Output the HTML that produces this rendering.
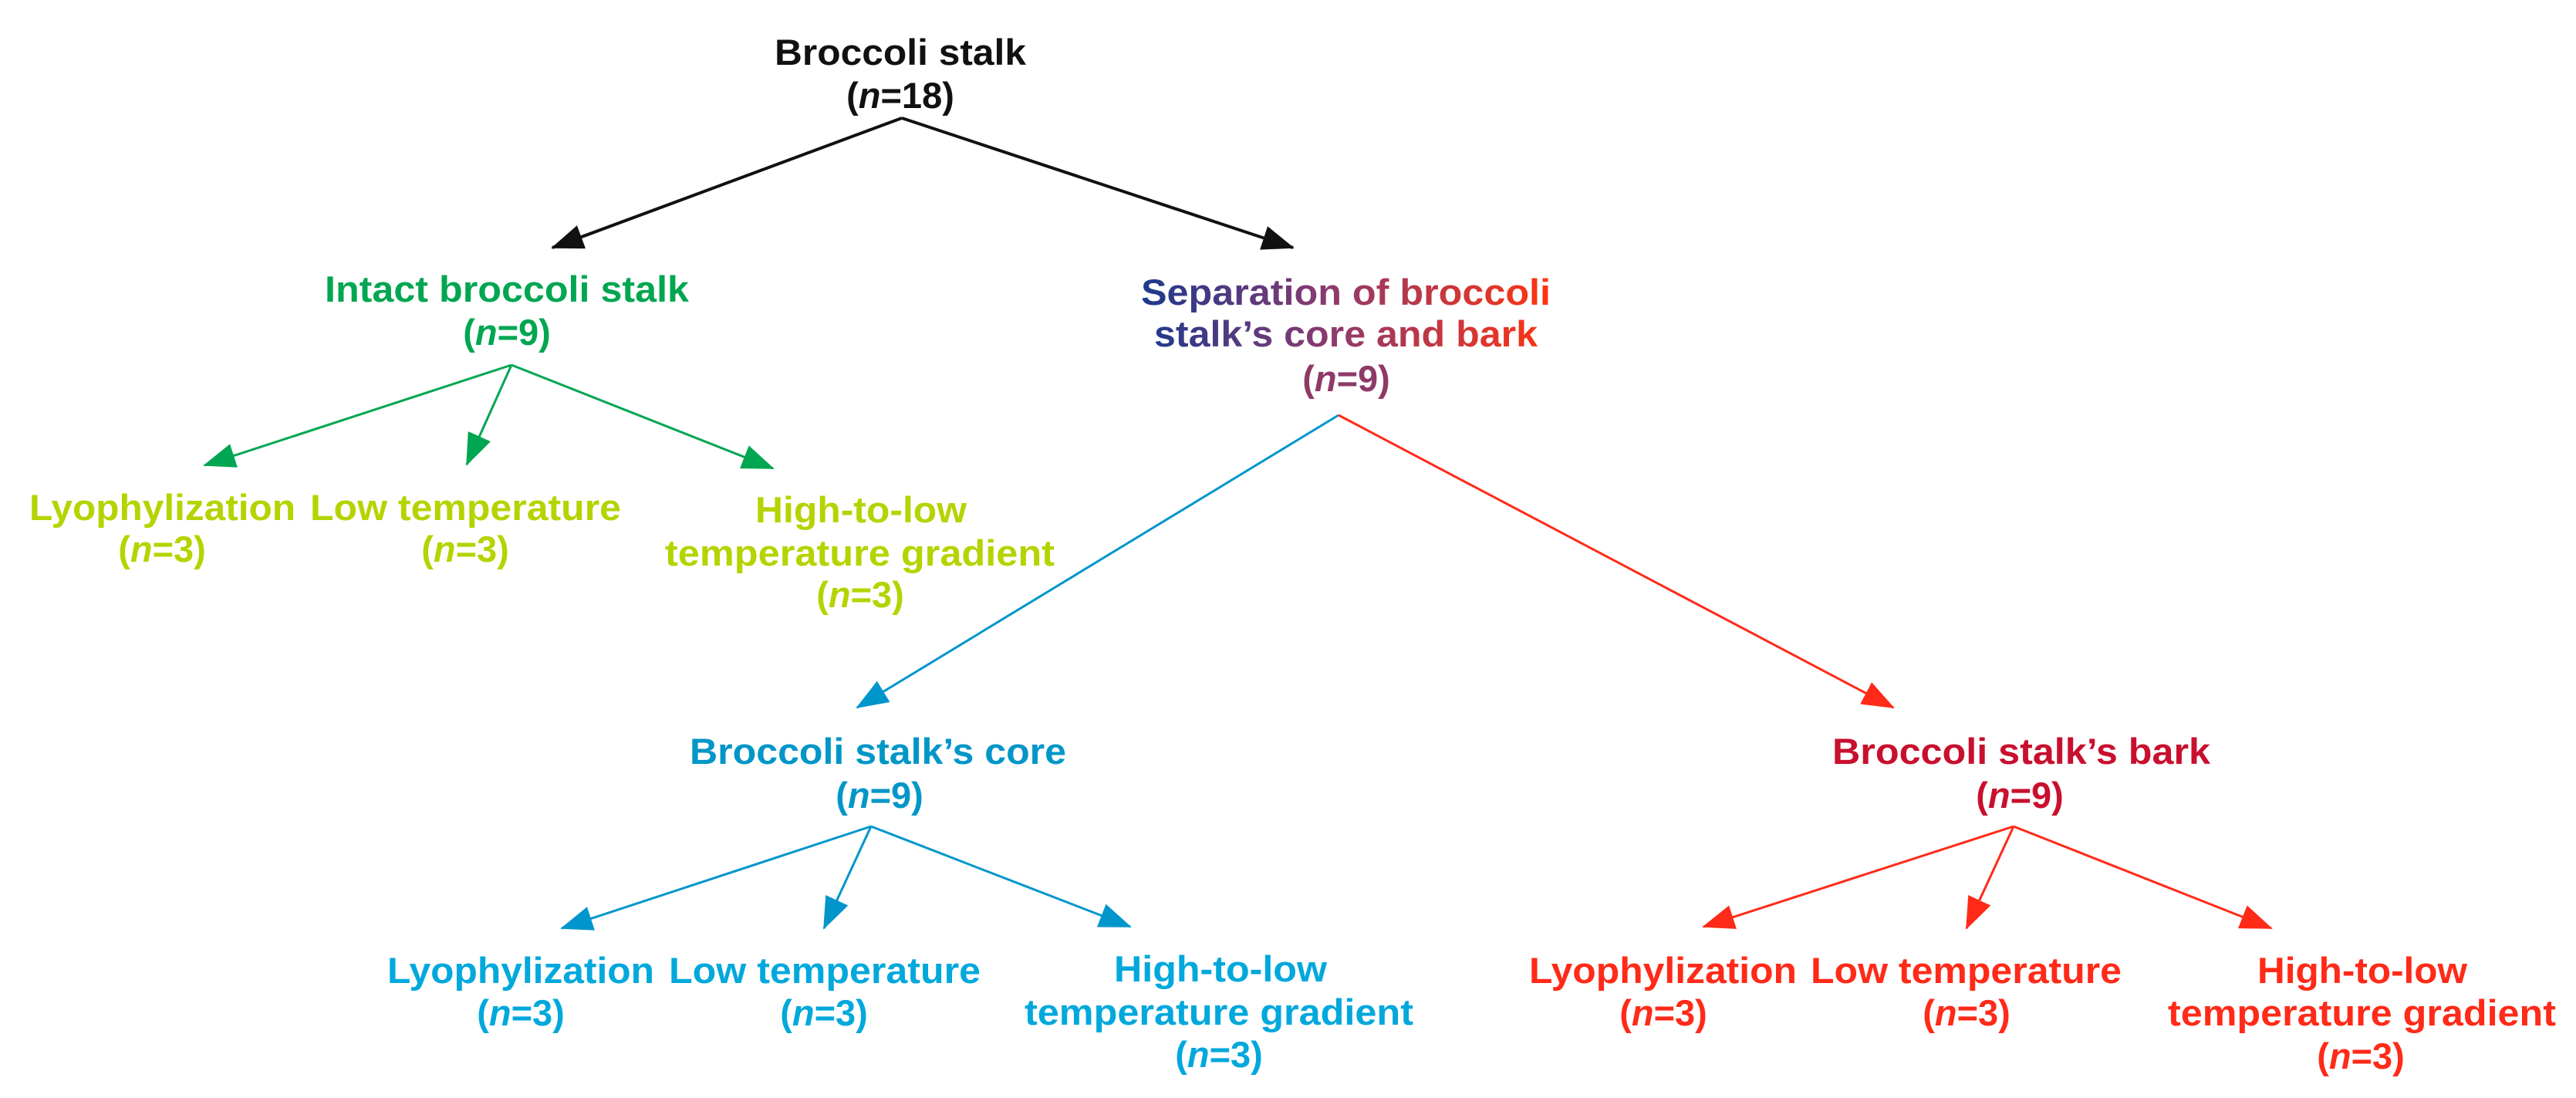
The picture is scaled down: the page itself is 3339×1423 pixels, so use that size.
<!DOCTYPE html>
<html><head><meta charset="utf-8"><style>
html,body{margin:0;padding:0;background:#fff;}
svg{display:block;}
text{font-family:"Liberation Sans",Arial,sans-serif;font-weight:bold;font-size:47px;}
</style></head><body>
<svg width="3339" height="1423" viewBox="0 0 3339 1423" xmlns="http://www.w3.org/2000/svg">
<defs>
<marker id="mk" markerUnits="userSpaceOnUse" markerWidth="44" markerHeight="34" refX="40" refY="16" orient="auto"><path d="M0,0 L42,16 L0,32 z" fill="#111"/></marker>
<marker id="mg" markerUnits="userSpaceOnUse" markerWidth="44" markerHeight="34" refX="40" refY="16" orient="auto"><path d="M0,0 L42,16 L0,32 z" fill="#00a651"/></marker>
<marker id="mb" markerUnits="userSpaceOnUse" markerWidth="44" markerHeight="34" refX="40" refY="16" orient="auto"><path d="M0,0 L42,16 L0,32 z" fill="#0096cc"/></marker>
<marker id="mr" markerUnits="userSpaceOnUse" markerWidth="44" markerHeight="34" refX="40" refY="16" orient="auto"><path d="M0,0 L42,16 L0,32 z" fill="#ff2a18"/></marker>
<linearGradient id="sg" gradientUnits="userSpaceOnUse" x1="1479" y1="0" x2="2010" y2="0">
<stop offset="0" stop-color="#1b3a8e"/><stop offset="0.45" stop-color="#8a3a70"/><stop offset="1" stop-color="#ff3410"/></linearGradient>
</defs>

<!-- connectors -->
<g fill="none" stroke-width="4">
<line x1="1169" y1="153" x2="716" y2="321" stroke="#111" marker-end="url(#mk)"/>
<line x1="1169" y1="153" x2="1676" y2="321" stroke="#111" marker-end="url(#mk)"/>
</g>
<g fill="none" stroke-width="3">
<line x1="663" y1="473" x2="265" y2="603" stroke="#00a651" marker-end="url(#mg)"/>
<line x1="663" y1="473" x2="605" y2="602" stroke="#00a651" marker-end="url(#mg)"/>
<line x1="663" y1="473" x2="1002" y2="607" stroke="#00a651" marker-end="url(#mg)"/>
<line x1="1735" y1="538" x2="1111" y2="917" stroke="#0096cc" marker-end="url(#mb)"/>
<line x1="1735" y1="538" x2="2454" y2="917" stroke="#ff2a18" marker-end="url(#mr)"/>
<line x1="1129" y1="1071" x2="728" y2="1203" stroke="#0096cc" marker-end="url(#mb)"/>
<line x1="1129" y1="1071" x2="1068" y2="1203" stroke="#0096cc" marker-end="url(#mb)"/>
<line x1="1129" y1="1071" x2="1465" y2="1201" stroke="#0096cc" marker-end="url(#mb)"/>
<line x1="2610" y1="1071" x2="2208" y2="1201" stroke="#ff2a18" marker-end="url(#mr)"/>
<line x1="2610" y1="1071" x2="2549" y2="1203" stroke="#ff2a18" marker-end="url(#mr)"/>
<line x1="2610" y1="1071" x2="2944" y2="1203" stroke="#ff2a18" marker-end="url(#mr)"/>
</g>

<!-- root -->
<g fill="#111">
<text x="1004" y="84" textLength="326" lengthAdjust="spacingAndGlyphs">Broccoli stalk</text>
<text x="1167" y="140" text-anchor="middle">(<tspan font-style="italic">n</tspan>=18)</text>
</g>

<!-- intact -->
<g fill="#00a651">
<text x="421" y="391" textLength="472" lengthAdjust="spacingAndGlyphs">Intact broccoli stalk</text>
<text x="657" y="447" text-anchor="middle">(<tspan font-style="italic">n</tspan>=9)</text>
</g>
<g fill="#b5d300">
<text x="38" y="674" textLength="345" lengthAdjust="spacingAndGlyphs">Lyophylization</text>
<text x="210" y="728" text-anchor="middle">(<tspan font-style="italic">n</tspan>=3)</text>
<text x="402" y="674" textLength="403" lengthAdjust="spacingAndGlyphs">Low temperature</text>
<text x="603" y="728" text-anchor="middle">(<tspan font-style="italic">n</tspan>=3)</text>
<text x="979" y="677" textLength="274" lengthAdjust="spacingAndGlyphs">High-to-low</text>
<text x="862" y="733" textLength="505" lengthAdjust="spacingAndGlyphs">temperature gradient</text>
<text x="1115" y="787" text-anchor="middle">(<tspan font-style="italic">n</tspan>=3)</text>
</g>

<!-- separation -->
<g fill="url(#sg)">
<text x="1479" y="395" textLength="531" lengthAdjust="spacingAndGlyphs">Separation of broccoli</text>
<text x="1496" y="449" textLength="497" lengthAdjust="spacingAndGlyphs">stalk’s core and bark</text>
</g>
<text x="1745" y="507" text-anchor="middle" fill="#8e3a68">(<tspan font-style="italic">n</tspan>=9)</text>

<!-- core -->
<g fill="#0096c8">
<text x="894" y="990" textLength="488" lengthAdjust="spacingAndGlyphs">Broccoli stalk’s core</text>
<text x="1140" y="1047" text-anchor="middle">(<tspan font-style="italic">n</tspan>=9)</text>
</g>
<g fill="#00a8dc">
<text x="502" y="1274" textLength="346" lengthAdjust="spacingAndGlyphs">Lyophylization</text>
<text x="675" y="1329" text-anchor="middle">(<tspan font-style="italic">n</tspan>=3)</text>
<text x="867" y="1274" textLength="404" lengthAdjust="spacingAndGlyphs">Low temperature</text>
<text x="1068" y="1329" text-anchor="middle">(<tspan font-style="italic">n</tspan>=3)</text>
<text x="1444" y="1272" textLength="276" lengthAdjust="spacingAndGlyphs">High-to-low</text>
<text x="1328" y="1328" textLength="504" lengthAdjust="spacingAndGlyphs">temperature gradient</text>
<text x="1580" y="1383" text-anchor="middle">(<tspan font-style="italic">n</tspan>=3)</text>
</g>

<!-- bark -->
<g fill="#c8102e">
<text x="2375" y="990" textLength="490" lengthAdjust="spacingAndGlyphs">Broccoli stalk’s bark</text>
<text x="2618" y="1047" text-anchor="middle">(<tspan font-style="italic">n</tspan>=9)</text>
</g>
<g fill="#ff2a18">
<text x="1982" y="1274" textLength="347" lengthAdjust="spacingAndGlyphs">Lyophylization</text>
<text x="2156" y="1329" text-anchor="middle">(<tspan font-style="italic">n</tspan>=3)</text>
<text x="2347" y="1274" textLength="403" lengthAdjust="spacingAndGlyphs">Low temperature</text>
<text x="2549" y="1329" text-anchor="middle">(<tspan font-style="italic">n</tspan>=3)</text>
<text x="2926" y="1274" textLength="272" lengthAdjust="spacingAndGlyphs">High-to-low</text>
<text x="2810" y="1329" textLength="503" lengthAdjust="spacingAndGlyphs">temperature gradient</text>
<text x="3060" y="1385" text-anchor="middle">(<tspan font-style="italic">n</tspan>=3)</text>
</g>
</svg>
</body></html>
